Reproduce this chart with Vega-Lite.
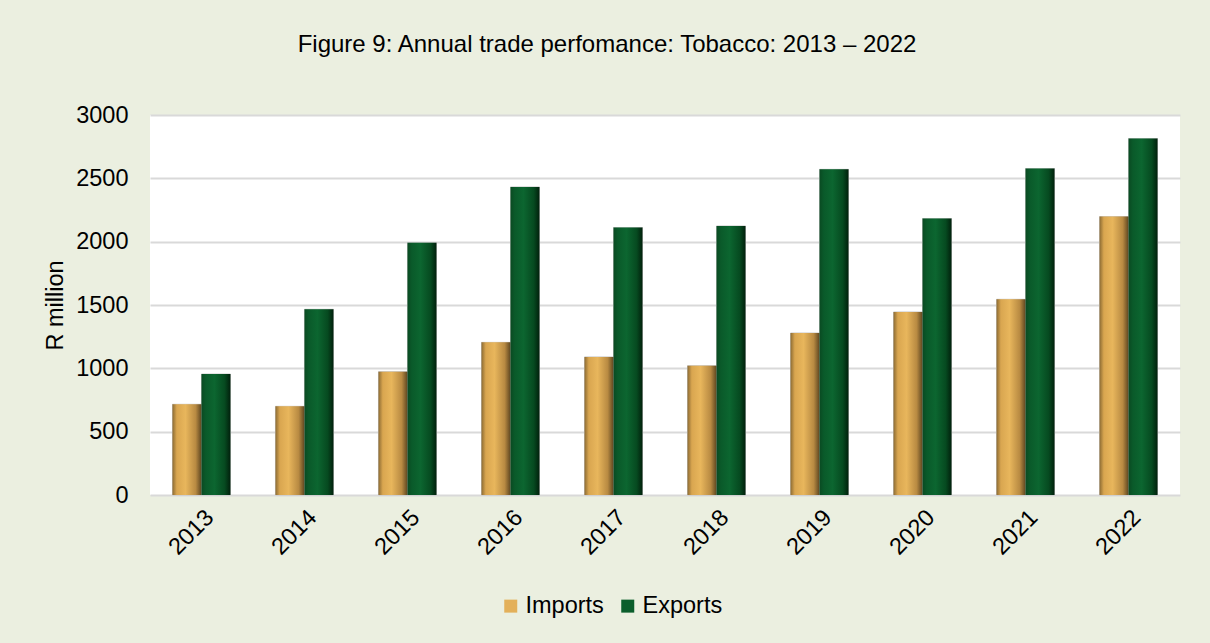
{
  "$schema": "https://vega.github.io/schema/vega-lite/v6.json",
  "autosize": {"type": "none"},
  "width": 1030,
  "height": 380,
  "padding": {"left": 150, "top": 115, "right": 30, "bottom": 148},
  "background": "#EBEFE0",
  "title": {
    "text": "Figure 9: Annual trade perfomance: Tobacco: 2013 – 2022",
    "font": "Liberation Sans",
    "fontSize": 24,
    "fontWeight": "normal",
    "color": "#000000",
    "anchor": "middle",
    "offset": 46,
    "dx": -58
  },
  "config": {
    "view": {"fill": "#FFFFFF", "stroke": null},
    "font": "Liberation Sans"
  },
  "data": {
    "values": [
      {"year": "2013", "series": "Imports", "value": 716},
      {"year": "2013", "series": "Exports", "value": 955},
      {"year": "2014", "series": "Imports", "value": 700},
      {"year": "2014", "series": "Exports", "value": 1466},
      {"year": "2015", "series": "Imports", "value": 974},
      {"year": "2015", "series": "Exports", "value": 1992},
      {"year": "2016", "series": "Imports", "value": 1205},
      {"year": "2016", "series": "Exports", "value": 2432},
      {"year": "2017", "series": "Imports", "value": 1090},
      {"year": "2017", "series": "Exports", "value": 2111},
      {"year": "2018", "series": "Imports", "value": 1021},
      {"year": "2018", "series": "Exports", "value": 2124},
      {"year": "2019", "series": "Imports", "value": 1279},
      {"year": "2019", "series": "Exports", "value": 2571},
      {"year": "2020", "series": "Imports", "value": 1445},
      {"year": "2020", "series": "Exports", "value": 2182},
      {"year": "2021", "series": "Imports", "value": 1545},
      {"year": "2021", "series": "Exports", "value": 2577},
      {"year": "2022", "series": "Imports", "value": 2198},
      {"year": "2022", "series": "Exports", "value": 2814}
    ]
  },
  "encoding": {
    "x": {
      "field": "year",
      "type": "nominal",
      "scale": {"paddingInner": 0.437, "paddingOuter": 0.218},
      "axis": {
        "title": null,
        "labelAngle": -45,
        "labelFontSize": 23.5,
        "labelColor": "#000000",
        "labelPadding": 10,
        "domain": false,
        "ticks": false
      }
    },
    "xOffset": {
      "field": "series",
      "type": "nominal",
      "sort": ["Imports", "Exports"],
      "scale": {"paddingInner": 0, "paddingOuter": 0}
    },
    "y": {
      "field": "value",
      "type": "quantitative",
      "scale": {"domain": [0, 3000]},
      "axis": {
        "title": "R million",
        "titleFontSize": 23.5,
        "titleFontWeight": "normal",
        "titleColor": "#000000",
        "titlePadding": 8,
        "format": "d",
        "values": [0, 500, 1000, 1500, 2000, 2500, 3000],
        "labelFontSize": 23.5,
        "labelColor": "#000000",
        "labelPadding": 22,
        "domain": false,
        "ticks": false,
        "gridColor": "#D9D9D9",
        "gridWidth": 2
      }
    }
  },
  "layer": [
    {
      "mark": {"type": "bar", "stroke": "#C8C8C8", "strokeWidth": 1},
      "encoding": {
        "color": {
          "field": "series",
          "type": "nominal",
          "sort": ["Imports", "Exports"],
          "scale": {"domain": ["Imports", "Exports"], "range": ["#E3B05A", "#0B5E2C"]},
          "legend": {
            "title": null,
            "orient": "none",
            "direction": "horizontal",
            "legendX": 349,
            "legendY": 479,
            "symbolType": "square",
            "symbolSize": 169,
            "symbolStrokeWidth": 0,
            "labelFontSize": 23.5,
            "labelColor": "#000000",
            "columnPadding": 12,
            "labelOffset": 3
          }
        }
      }
    },
    {
      "transform": [{"filter": "datum.series === 'Imports'"}],
      "mark": {
        "type": "bar",
        "fill": {
          "gradient": "linear", "x1": 0, "y1": 0, "x2": 1, "y2": 0,
          "stops": [
            {"offset": 0, "color": "#8C6B33"},
            {"offset": 0.15, "color": "#D9A650"},
            {"offset": 0.45, "color": "#E8B65C"},
            {"offset": 0.8, "color": "#B88A42"},
            {"offset": 1, "color": "#5E4620"}
          ]
        }
      }
    },
    {
      "transform": [{"filter": "datum.series === 'Exports'"}],
      "mark": {
        "type": "bar",
        "fill": {
          "gradient": "linear", "x1": 0, "y1": 0, "x2": 1, "y2": 0,
          "stops": [
            {"offset": 0, "color": "#0A4A22"},
            {"offset": 0.15, "color": "#0A5A2A"},
            {"offset": 0.45, "color": "#0C6630"},
            {"offset": 0.8, "color": "#064A20"},
            {"offset": 1, "color": "#01200C"}
          ]
        }
      }
    }
  ]
}
